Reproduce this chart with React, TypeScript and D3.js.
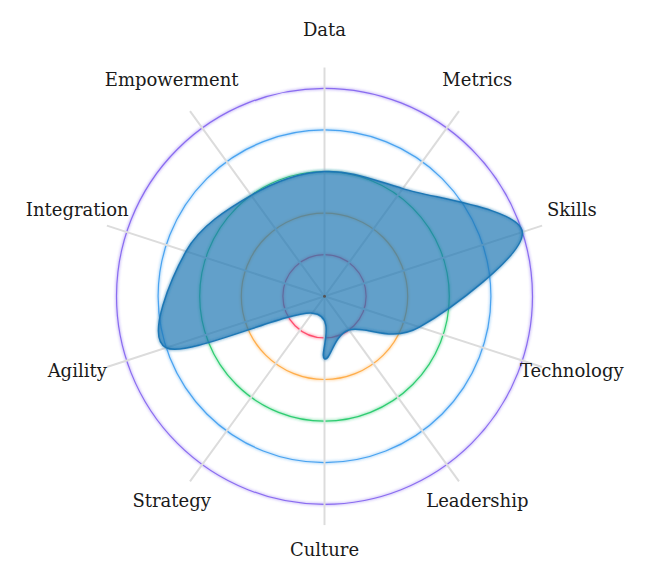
import React from "react";
import * as d3 from "d3";

const axes = ["Data", "Metrics", "Skills", "Technology", "Leadership", "Culture", "Strategy", "Agility", "Integration", "Empowerment"];
const values = [60, 64, 100, 48, 20, 30, 10, 80, 70, 60];
const maxValue = 100;
const levels = [1, 2, 3, 4, 5];
const levelColors = ["#ff4d6d", "#ffad4a", "#2ecc71", "#4aa3f0", "#8a6cf0"];

const W = 653;
const H = 583;
const cx = 324.5;
const cy = 296.3;
const R = 208;

export default function App() {
  const n = axes.length;
  const angle = (i: number) => (i * 2 * Math.PI) / n;
  const rScale = d3.scaleLinear().domain([0, maxValue]).range([0, R]);
  const line = d3
    .lineRadial<number>()
    .radius((d) => rScale(d))
    .angle((_, i) => angle(i))
    .curve(d3.curveCardinalClosed);
  const pathD = line(values) || "";

  return (
    <svg width={W} height={H} style={{ position: "absolute", left: 0, top: 0 }}>
      <defs>
        <filter id="glow" x="-20%" y="-20%" width="140%" height="140%">
          <feGaussianBlur stdDeviation="1.5" result="coloredBlur" />
          <feMerge>
            <feMergeNode in="coloredBlur" />
            <feMergeNode in="SourceGraphic" />
          </feMerge>
        </filter>
      </defs>
      <g transform={`translate(${cx},${cy})`}>
        {levels.map((l, i) => (
          <circle
            key={l}
            r={(R / levels.length) * l}
            fill="none"
            stroke={levelColors[i]}
            strokeWidth={1.2}
            filter="url(#glow)"
          />
        ))}
        {axes.map((a, i) => {
          const x = rScale(maxValue * 1.1) * Math.sin(angle(i));
          const y = -rScale(maxValue * 1.1) * Math.cos(angle(i));
          return <line key={a} x1={0} y1={0} x2={x} y2={y} stroke="#dcdcdc" strokeWidth={2} />;
        })}
        <path d={pathD} fill="#1f77b4" fillOpacity={0.7} stroke="none" />
        <path d={pathD} fill="none" stroke="#1f77b4" strokeWidth={1.5} filter="url(#glow)" />
        <circle r={1.5} fill="#555" />
        {axes.map((a, i) => {
          const x = rScale(maxValue * 1.25) * Math.sin(angle(i));
          const y = -rScale(maxValue * 1.25) * Math.cos(angle(i));
          return (
            <text
              key={a}
              x={x}
              y={y}
              textAnchor="middle"
              fontFamily="'DejaVu Serif', serif"
              fontSize={18}
              fill="#1a1a1a"
            >
              {a}
            </text>
          );
        })}
      </g>
    </svg>
  );
}
